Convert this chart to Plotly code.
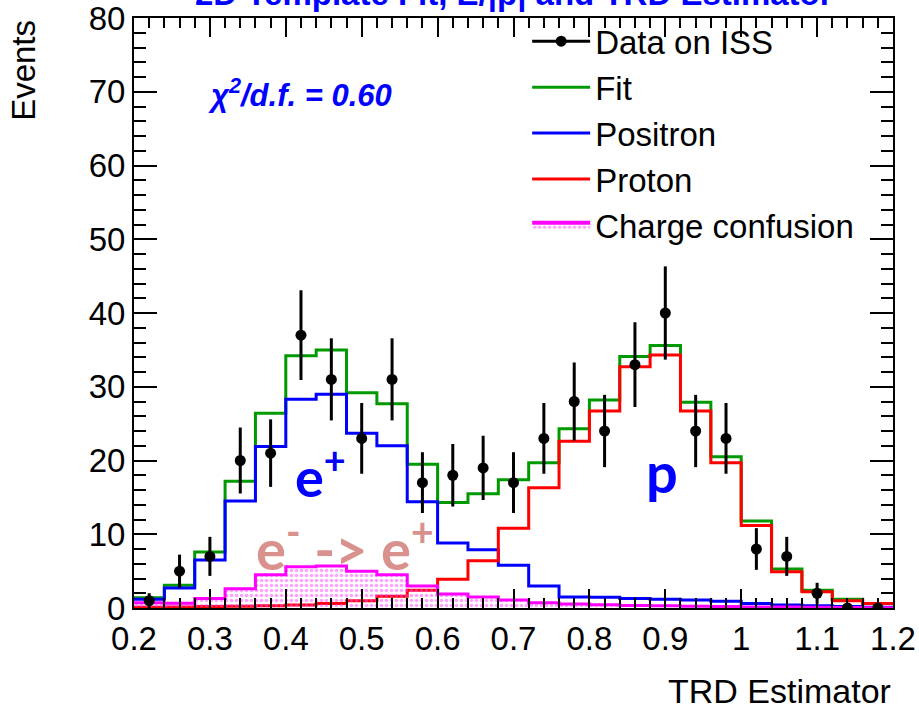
import numpy as np
import plotly.graph_objects as go

# Binning of the TRD estimator (25 bins of width 0.04 between 0.2 and 1.2)
bin_edges = [round(0.2 + 0.04 * i, 2) for i in range(26)]
bin_centers = [round(0.22 + 0.04 * i, 2) for i in range(25)]

# Observed event counts per bin
data_counts = [1, 5, 7, 20, 21, 37, 31, 23, 31, 17, 18, 19, 17, 23, 28,
               24, 33, 40, 24, 23, 8, 7, 2, 0, 0]

# Template fit result and its components
fit_total = [1.4, 3.1, 7.6, 17.2, 26.4, 34.2, 35.0, 29.2, 27.7, 19.5, 14.3,
             15.5, 17.4, 19.7, 24.3, 28.2, 34.1, 35.6, 27.9, 20.5, 11.8,
             5.3, 2.4, 1.2, 0.6]
positron = [1.2, 2.7, 6.5, 14.5, 21.9, 28.3, 29.0, 23.7, 22.0, 14.4, 8.8,
            7.9, 5.8, 3.0, 1.5, 1.45, 1.3, 1.2, 1.1, 0.9, 0.6, 0.4, 0.3,
            0.2, 0.1]
proton = [0.1, 0.15, 0.2, 0.25, 0.3, 0.4, 0.6, 1.0, 1.6, 2.4, 3.9, 6.4,
          10.8, 16.3, 22.6, 26.7, 32.7, 34.3, 26.7, 19.7, 11.2, 4.9, 2.2,
          1.0, 0.6]
charge_confusion = [0.7, 0.65, 1.3, 2.6, 4.5, 5.6, 5.7, 5.0, 4.5, 3.0, 1.9,
                    1.5, 1.1, 0.7, 0.55, 0.45, 0.35, 0.3, 0.25, 0.2, 0.15,
                    0.12, 0.1, 0.08, 0.05]

x_tickvals = [0.2, 0.3, 0.4, 0.5, 0.6, 0.7, 0.8, 0.9, 1.0, 1.1, 1.2]
x_ticktext = ["0.2", "0.3", "0.4", "0.5", "0.6", "0.7", "0.8", "0.9", "1", "1.1", "1.2"]
y_tickvals = [0, 10, 20, 30, 40, 50, 60, 70, 80]
y_ticktext = ["0", "10", "20", "30", "40", "50", "60", "70", "80"]

FONT = "Liberation Sans, Arial, Helvetica, sans-serif"
LABEL_FONT = "Lato, Open Sans, sans-serif"
CC_PATTERN = dict(shape=".", fgcolor="#ff44ff", bgcolor="rgba(255,255,255,0)",
                  size=5, solidity=0.4)


def step_y(values):
    # repeat the last bin so the 'hv' step closes at the upper edge
    return list(values) + [values[-1]]


fig = go.Figure()

fig.add_trace(go.Scatter(
    x=bin_edges, y=step_y(fit_total), mode="lines", line_shape="hv",
    line=dict(color="#009a00", width=3), name="Fit", showlegend=False))
fig.add_trace(go.Scatter(
    x=bin_edges, y=step_y(positron), mode="lines", line_shape="hv",
    line=dict(color="#0000ff", width=3), name="Positron", showlegend=False))
fig.add_trace(go.Scatter(
    x=bin_edges, y=step_y(proton), mode="lines", line_shape="hv",
    line=dict(color="#ff0000", width=3), name="Proton", showlegend=False))
fig.add_trace(go.Scatter(
    x=bin_edges, y=step_y(charge_confusion), mode="lines", line_shape="hv",
    line=dict(color="#ff00ff", width=3), fill="tozeroy",
    fillcolor="rgba(255,255,255,0)", fillpattern=CC_PATTERN,
    name="Charge confusion", showlegend=False))

# Data points with Poisson errors
fig.add_trace(go.Scatter(
    x=bin_centers, y=data_counts, mode="markers",
    marker=dict(color="black", size=11),
    error_y=dict(type="data", array=list(np.sqrt(data_counts)), color="black",
                 thickness=3, width=0),
    name="Data on ISS", showlegend=False))

# Legend entries
fig.add_trace(go.Scatter(x=[None], y=[None], mode="lines+markers",
                         line=dict(color="black", width=3),
                         marker=dict(color="black", size=11), name="Data on ISS"))
fig.add_trace(go.Scatter(x=[None], y=[None], mode="lines",
                         line=dict(color="#009a00", width=3), name="Fit"))
fig.add_trace(go.Scatter(x=[None], y=[None], mode="lines",
                         line=dict(color="#0000ff", width=3), name="Positron"))
fig.add_trace(go.Scatter(x=[None], y=[None], mode="lines",
                         line=dict(color="#ff0000", width=3), name="Proton"))
fig.add_trace(go.Scatter(x=[None], y=[None], mode="lines", fill="tozeroy",
                         fillcolor="rgba(255,255,255,0)", fillpattern=CC_PATTERN,
                         line=dict(color="#ff00ff", width=4),
                         name="Charge confusion"))

axis_common = dict(
    showline=True, linecolor="black", linewidth=2, mirror="allticks",
    ticks="inside", tickcolor="black", tickwidth=1.5,
    showgrid=False, zeroline=False, ticklabeloverflow="allow",
    tickfont=dict(family=FONT, size=33, color="black"),
)

fig.update_xaxes(
    range=[0.2, 1.2], tickmode="array", tickvals=x_tickvals, ticktext=x_ticktext,
    ticklen=19,
    minor=dict(dtick=0.02, tick0=0.2, ticklen=10, ticks="inside",
               tickcolor="black", tickwidth=1.5, showgrid=False),
    **axis_common)
fig.update_yaxes(
    range=[0, 80], tickmode="array", tickvals=y_tickvals, ticktext=y_ticktext,
    ticklen=23,
    minor=dict(dtick=2, tick0=0, ticklen=12, ticks="inside",
               tickcolor="black", tickwidth=1.5, showgrid=False),
    **axis_common)

annotations = [
    dict(text="<b>2D Template Fit, E/|p| and TRD Estimator</b>",
         xref="paper", yref="paper", x=0.50, y=1.041, xanchor="center",
         yanchor="middle", showarrow=False,
         font=dict(family=FONT, size=33, color="#0000ff")),
    dict(text="Events", xref="paper", yref="paper", x=-0.145, y=0.912,
         xanchor="center", yanchor="middle", textangle=-90, showarrow=False,
         font=dict(family=FONT, size=33, color="black")),
    dict(text="TRD Estimator", xref="paper", yref="paper", x=1.0, y=-0.14,
         xanchor="right", yanchor="middle", showarrow=False,
         font=dict(family=FONT, size=34, color="black")),
    dict(text="<b><i>χ<sup>2</sup>/d.f. = 0.60</i></b>", xref="x", yref="y",
         x=0.419, y=69.8, xanchor="center", yanchor="middle", showarrow=False,
         font=dict(family=FONT, size=31, color="#0000ff")),
    dict(text="<b>e<sup>+</sup></b>", xref="x", yref="y", x=0.446, y=18.3,
         xanchor="center", yanchor="middle", showarrow=False,
         font=dict(family=LABEL_FONT, size=54, color="#0000ff")),
    dict(text="<b>p</b>", xref="x", yref="y", x=0.895, y=18.5,
         xanchor="center", yanchor="middle", showarrow=False,
         font=dict(family=LABEL_FONT, size=56, color="#0000ff")),
    dict(text="<b>e<sup>-</sup> -> e<sup>+</sup></b>", xref="x", yref="y",
         x=0.478, y=8.6, xanchor="center", yanchor="middle", showarrow=False,
         font=dict(family=LABEL_FONT, size=56, color="#d9918e")),
]

fig.update_layout(
    width=919, height=710,
    margin=dict(l=134, r=26, t=18, b=102, autoexpand=False),
    paper_bgcolor="white", plot_bgcolor="white",
    font=dict(family=FONT, color="black"),
    annotations=annotations,
    legend=dict(x=0.518, y=1.008, xanchor="left", yanchor="top",
                bgcolor="rgba(0,0,0,0)", borderwidth=0,
                font=dict(family=FONT, size=33, color="black"),
                itemwidth=58, tracegroupgap=0),
)

fig.write_html("out.html")
